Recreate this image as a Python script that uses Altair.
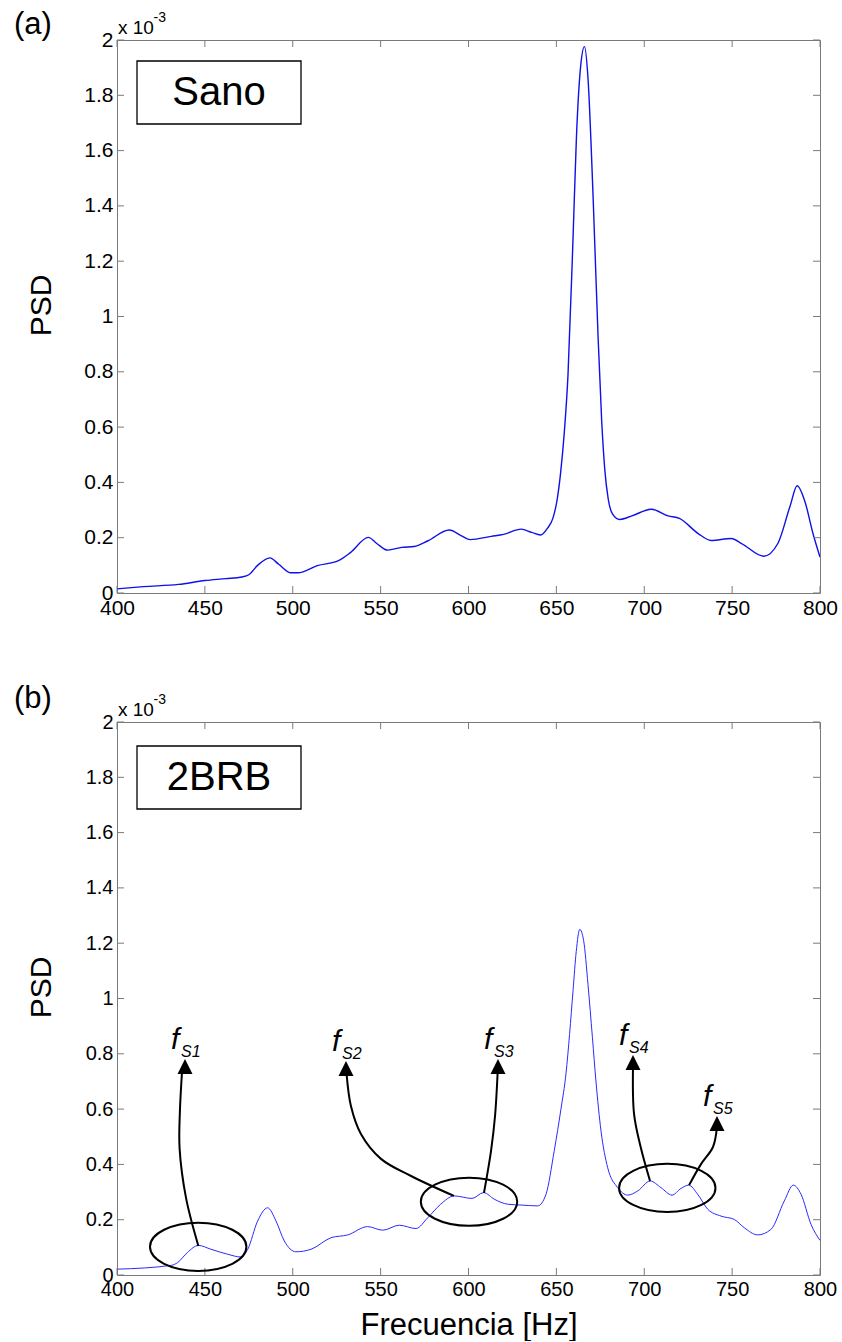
import altair as alt
import pandas as pd

# ---------------- data (PSD values in units of 1e-3) ----------------
freq_a = [400, 415, 435, 450, 462, 471, 475, 480, 487, 492, 499, 503, 514, 526, 533,
          543, 548, 554, 562, 569, 577, 589, 596, 601, 613, 620, 630, 636, 641, 645,
          648, 650.5, 652.5, 654.5, 656.6, 659.5, 661.4, 663.9, 666, 668, 670.9,
          673.7, 675.8, 677.5, 679.5, 682, 686, 693, 704, 713.6, 720, 730.7, 738,
          749.5, 755.4, 768, 776, 783, 787, 791.5, 796, 800]
psd_a = [0.015, 0.023, 0.031, 0.045, 0.052, 0.058, 0.066, 0.10, 0.127, 0.104, 0.073,
         0.073, 0.099, 0.117, 0.147, 0.201, 0.178, 0.155, 0.165, 0.168, 0.189, 0.228,
         0.207, 0.193, 0.205, 0.212, 0.231, 0.219, 0.21, 0.235, 0.27, 0.34, 0.44,
         0.58, 0.787, 1.288, 1.646, 1.911, 1.976, 1.861, 1.432, 0.931, 0.62, 0.45,
         0.34, 0.285, 0.266, 0.279, 0.303, 0.279, 0.27, 0.215, 0.19, 0.197, 0.179,
         0.133, 0.179, 0.315, 0.388, 0.329, 0.215, 0.13]

freq_b = [400, 431, 434.5, 440, 446.3, 453.5, 463, 470.6, 474.4, 480, 485.7, 490.5,
          495.2, 501.8, 510.4, 521.8, 531.3, 542.6, 551.2, 560.6, 570.1, 576.8, 584,
          591.9, 602, 608.6, 614.7, 622.3, 630, 639.4, 644.1, 648.8, 652.6, 655.5,
          657.5, 659.5, 661.3, 663.3, 665.5, 668, 670.5, 672.5, 675.4, 679.2, 684.9,
          690.6, 696.3, 703.4, 709.5, 715.8, 720.9, 725.3, 730.4, 736.1, 743.7,
          751.2, 756.9, 764.5, 772.1, 779.7, 784.8, 789.2, 794.9, 800]
psd_b = [0.021, 0.035, 0.045, 0.081, 0.107, 0.093, 0.075, 0.065, 0.093, 0.195, 0.243,
         0.195, 0.123, 0.084, 0.093, 0.135, 0.145, 0.175, 0.162, 0.18, 0.168, 0.207,
         0.255, 0.286, 0.277, 0.298, 0.274, 0.256, 0.253, 0.25, 0.292, 0.45, 0.6,
         0.73, 0.87, 1.03, 1.17, 1.25, 1.21, 1.05, 0.86, 0.702, 0.521, 0.388, 0.316,
         0.289, 0.304, 0.34, 0.316, 0.289, 0.313, 0.325, 0.292, 0.238, 0.213, 0.201,
         0.171, 0.145, 0.165, 0.268, 0.325, 0.292, 0.183, 0.125]

x_ticks = [400, 450, 500, 550, 600, 650, 700, 750, 800]
y_ticks = [0, 0.2, 0.4, 0.6, 0.8, 1, 1.2, 1.4, 1.6, 1.8, 2]

panel_tags = ["(a)", "(b)"]
legend_names = ["Sano", "2BRB"]
x_title = "Frecuencia [Hz]"
y_title = "PSD"
exp_base = "x 10"
exp_power = "-3"

# annotations of panel (b)
ell_x = [446.2, 600.3, 713.1]
ell_y = [0.102, 0.265, 0.315]

arrow_id = [1] * 5 + [2] * 6 + [3] * 4 + [4] * 4 + [5] * 4
arrow_x = [446.3, 439.3, 435.6, 435.8, 437.0,
           591.7, 567.3, 550.2, 538.8, 533.1, 530.6,
           608.8, 612.8, 615.1, 616.6,
           703.3, 698.1, 694.2, 693.6,
           725.5, 732.3, 739.1, 741.3]
arrow_y = [0.105, 0.278, 0.459, 0.593, 0.735,
           0.286, 0.358, 0.420, 0.510, 0.611, 0.73,
           0.297, 0.448, 0.575, 0.735,
           0.340, 0.459, 0.582, 0.75,
           0.325, 0.401, 0.463, 0.53]

tip_names = ["S1", "S2", "S3", "S4", "S5"]
tip_x = [438.7, 530.3, 616.8, 693.6, 741.4]
tip_y = [0.781, 0.774, 0.781, 0.796, 0.575]

# ---------------- layout constants ----------------
W, H = 703, 553
FONT = "Liberation Sans"
FRAME = "#7a7a7a"
ELLIPSE = ("M1,0 C1,0.2761 0.5523,0.5 0,0.5 C-0.5523,0.5 -1,0.2761 -1,0 "
           "C-1,-0.2761 -0.5523,-0.5 0,-0.5 C0.5523,-0.5 1,-0.2761 1,0 Z")
ARROWHEAD = "M0,0 L0.5,1 L-0.5,1 Z"

xs = alt.Scale(domain=[400, 800], nice=False, zero=False)
ys = alt.Scale(domain=[0, 2], nice=False, zero=False)


def axes(label_size, show_xtitle):
    x_kw = dict(values=x_ticks, labelFontSize=label_size, labelPadding=4,
                labelFont=FONT, labelColor="black", ticks=False, domain=False,
                grid=False, labelFlush=False, format="d")
    if show_xtitle:
        x_kw.update(title=x_title, titleFontSize=31, titleFont=FONT,
                    titleFontWeight="normal", titleColor="black",
                    titleY=59, titleBaseline="alphabetic", titleX=W / 2,
                    titleAlign="center")
    else:
        x_kw.update(title="")
    xa = alt.Axis(**x_kw)
    ya = alt.Axis(values=y_ticks, labelFontSize=label_size, labelPadding=4,
                  labelFont=FONT, labelColor="black", ticks=False, format="~g",
                  labelFlush=False,
                  domain=False, grid=False, title=y_title, titleFontSize=30,
                  titleFont=FONT, titleFontWeight="normal", titleColor="black",
                  titleX=-76, titleY=265, titleAngle=-90, titleAlign="center",
                  titleBaseline="middle")
    return xa, ya


def panel(idx, freq, psd, color, lw, xa, ya, tag_y, box_y):
    X = lambda f: alt.X(f, scale=xs, axis=xa)
    Y = lambda f: alt.Y(f, scale=ys, axis=ya)
    df = pd.DataFrame({"f": freq, "p": psd})

    line = alt.Chart(df).mark_line(color=color, strokeWidth=lw,
                                   interpolate="monotone", clip=True).encode(
        x=X("f:Q"), y=Y("p:Q"))

    xt = pd.DataFrame({"f": x_ticks})
    yt = pd.DataFrame({"p": y_ticks})
    tick_b = alt.Chart(xt).mark_rule(color=FRAME, strokeWidth=1).encode(
        x=X("f:Q"), y=alt.value(H), y2=alt.value(H - 7))
    tick_t = alt.Chart(xt).mark_rule(color=FRAME, strokeWidth=1).encode(
        x=X("f:Q"), y=alt.value(0), y2=alt.value(7))
    tick_l = alt.Chart(yt).mark_rule(color=FRAME, strokeWidth=1).encode(
        y=Y("p:Q"), x=alt.value(0), x2=alt.value(7))
    tick_r = alt.Chart(yt).mark_rule(color=FRAME, strokeWidth=1).encode(
        y=Y("p:Q"), x=alt.value(W), x2=alt.value(W - 7))

    name_df = pd.DataFrame({"t": [legend_names[idx]]})
    box = alt.Chart(name_df).mark_rect(fill="white", stroke="black",
                                       strokeWidth=1.3).encode(
        x=alt.value(20), x2=alt.value(184), y=alt.value(box_y),
        y2=alt.value(box_y + 63))
    name = alt.Chart(name_df).mark_text(font=FONT, fontSize=40, color="black",
                                        align="center", baseline="middle").encode(
        x=alt.value(102), y=alt.value(box_y + 32), text="t:N")

    tag = alt.Chart(pd.DataFrame({"t": [panel_tags[idx]]})).mark_text(
        font=FONT, fontSize=31, color="black", align="left",
        baseline="alphabetic").encode(x=alt.value(-103), y=alt.value(tag_y),
                                      text="t:N")
    e1 = alt.Chart(pd.DataFrame({"t": [exp_base]})).mark_text(
        font=FONT, fontSize=19, color="black", align="left",
        baseline="alphabetic").encode(x=alt.value(1), y=alt.value(-6), text="t:N")
    e2 = alt.Chart(pd.DataFrame({"t": [exp_power]})).mark_text(
        font=FONT, fontSize=14, color="black", align="left",
        baseline="alphabetic").encode(x=alt.value(36.5), y=alt.value(-18),
                                      text="t:N")

    return [line, tick_b, tick_t, tick_l, tick_r, box, name, tag, e1, e2]


xa_a, ya_a = axes(21, False)
xa_b, ya_b = axes(20, True)
layers_a = panel(0, freq_a, psd_a, "#1010e8", 1.4, xa_a, ya_a, -6, 21)
layers_b = panel(1, freq_b, psd_b, "#2a2aff", 1.0, xa_b, ya_b, -14, 24)

# annotations in (b)
Xb = lambda f: alt.X(f, scale=xs, axis=xa_b)
Yb = lambda f: alt.Y(f, scale=ys, axis=ya_b)
ell = alt.Chart(pd.DataFrame({"f": ell_x, "p": ell_y})).mark_point(
    shape=ELLIPSE, size=9293, filled=False, stroke="black", strokeWidth=2,
    opacity=1).encode(x=Xb("f:Q"), y=Yb("p:Q"))
adf = pd.DataFrame({"id": arrow_id, "f": arrow_x, "p": arrow_y,
                    "o": list(range(len(arrow_x)))})
arrows = alt.Chart(adf).mark_line(color="black", strokeWidth=2,
                                  interpolate="catmull-rom").encode(
    x=Xb("f:Q"), y=Yb("p:Q"), detail="id:N", order="o:Q")
tdf = pd.DataFrame({"f": tip_x, "p": tip_y, "lab": ["f"] * 5, "s": tip_names})
heads = alt.Chart(tdf).mark_point(shape=ARROWHEAD, size=900, filled=True,
                                  color="black", opacity=1, strokeWidth=0).encode(
    x=Xb("f:Q"), y=Yb("p:Q"))
f_lab = alt.Chart(tdf).mark_text(font=FONT, fontSize=30, fontStyle="italic",
                                 color="black", align="left", baseline="alphabetic",
                                 dx=-14, dy=-10).encode(
    x=Xb("f:Q"), y=Yb("p:Q"), text="lab:N")
s_lab = alt.Chart(tdf).mark_text(font=FONT, fontSize=16, fontStyle="italic",
                                 color="black", align="left", baseline="alphabetic",
                                 dx=-4, dy=-2).encode(
    x=Xb("f:Q"), y=Yb("p:Q"), text="s:N")

panel_a = alt.layer(*layers_a).properties(width=W, height=H)
panel_b = alt.layer(*(layers_b + [ell, arrows, heads, f_lab, s_lab])).properties(
    width=W, height=H)

chart = alt.vconcat(panel_a, panel_b, spacing=63).properties(
    padding={"left": 13, "top": 8, "right": 0, "bottom": 0},
    background="white",
).configure_view(stroke=FRAME, strokeWidth=1)

chart.save("out.html", embed_options={"renderer": "svg", "actions": False})
